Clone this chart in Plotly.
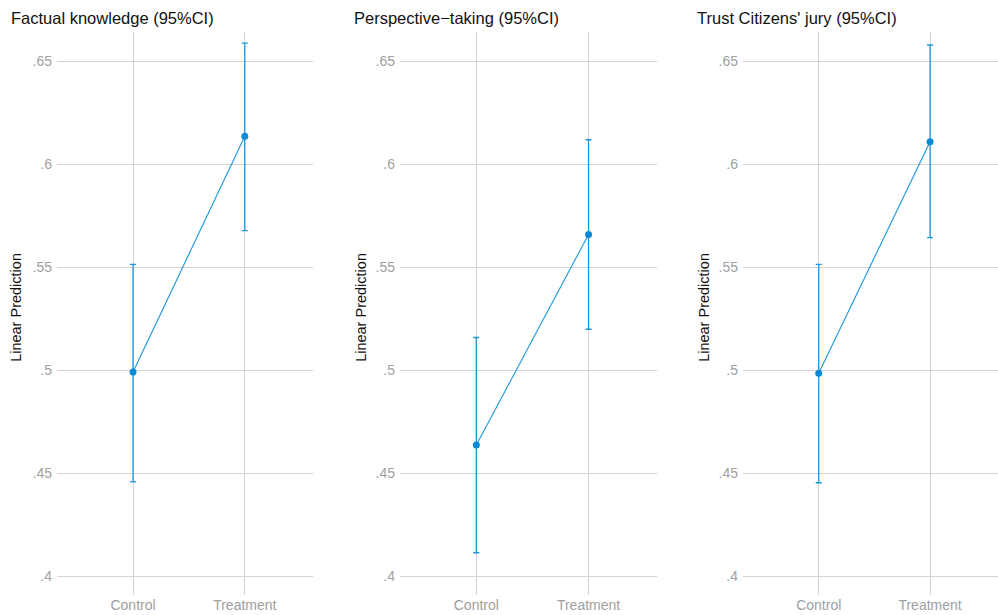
import plotly.graph_objects as go

groups = ["Control", "Treatment"]
titles = ["Factual knowledge (95%CI)", "Perspective\u2212taking (95%CI)", "Trust Citizens' jury (95%CI)"]
est = [[0.499, 0.6135], [0.4636, 0.5658], [0.4985, 0.6108]]
lo = [[0.4457, 0.5677], [0.4113, 0.5198], [0.4453, 0.5643]]
hi = [[0.5513, 0.6587], [0.5158, 0.6118], [0.5513, 0.6578]]
ytickvals = [0.4, 0.45, 0.5, 0.55, 0.6, 0.65]
yticktext = [".4", ".45", ".5", ".55", ".6", ".65"]

W, H = 998, 615
domains = [(57, 313), (400, 657), (743, 998)]
ytitle_x = [16, 361, 704]
color = "#1a96dc"
mcolor = "#0a8ad6"
FONT = "Liberation Sans, Arial, Helvetica, sans-serif"

fig = go.Figure()
for i in range(3):
    ax = "" if i == 0 else str(i + 1)
    fig.add_trace(go.Scatter(
        x=groups, y=est[i], mode="lines+markers",
        line=dict(color=color, width=1.1),
        marker=dict(color=mcolor, size=7),
        error_y=dict(type="data", symmetric=False,
                     array=[h - e for h, e in zip(hi[i], est[i])],
                     arrayminus=[e - l for e, l in zip(est[i], lo[i])],
                     color=color, thickness=1.3, width=3),
        xaxis="x" + ax, yaxis="y" + ax, showlegend=False, hoverinfo="skip"))
    d0, d1 = domains[i]
    fig.layout["xaxis" + ax] = dict(
        domain=[d0 / W, d1 / W], type="category", categoryorder="array", categoryarray=groups,
        range=[-0.68, 1.61], showgrid=True, gridcolor="#d3d3d3", gridwidth=1,
        zeroline=False, showline=False, ticks="", anchor="y" + ax, ticklabelstandoff=0,
        tickfont=dict(family=FONT, size=14, color="#a0a0a0"))
    fig.layout["yaxis" + ax] = dict(
        range=[0.3908, 0.6641], tickvals=ytickvals, ticktext=yticktext,
        showgrid=True, gridcolor="#d3d3d3", gridwidth=1, zeroline=False, showline=False,
        ticks="", anchor="x" + ax, ticklabelstandoff=4,
        tickfont=dict(family=FONT, size=14, color="#a0a0a0"))
    fig.add_annotation(text=titles[i], xref="paper", yref="paper",
                       x=(d0 - 48) / W, y=1, yanchor="bottom",
                       xanchor="left", showarrow=False, yshift=3,
                       font=dict(family=FONT, size=16.5, color="#111111"))
    fig.add_annotation(text="Linear Prediction", xref="paper", yref="paper",
                       x=ytitle_x[i] / W, y=0.51, textangle=-90, showarrow=False,
                       xanchor="center", yanchor="middle",
                       font=dict(family=FONT, size=14.5, color="#111111"))

fig.update_layout(width=W, height=H, margin=dict(l=0, r=0, t=32, b=20),
                  plot_bgcolor="white", paper_bgcolor="white")
fig.write_html("out.html", config={"displayModeBar": False},
               post_script="document.body.style.margin='0';document.body.style.overflow='hidden';")
